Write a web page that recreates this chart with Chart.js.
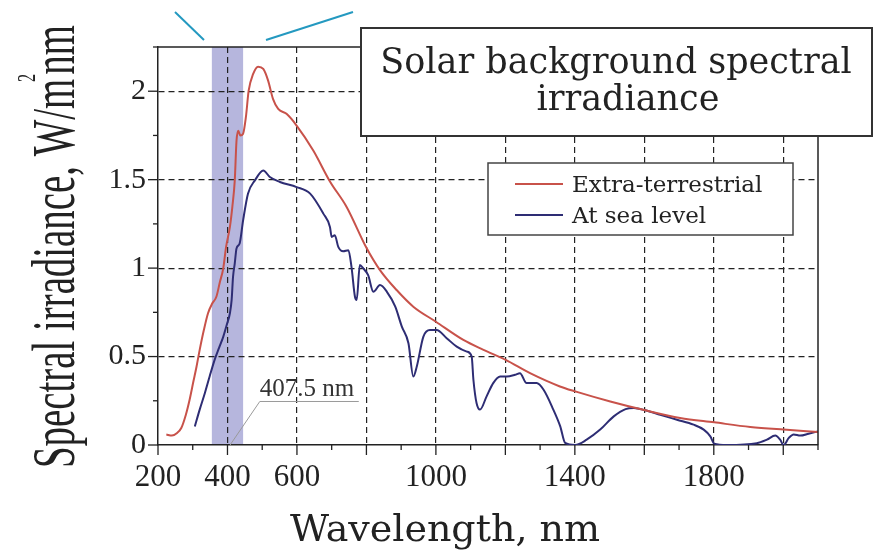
<!DOCTYPE html>
<html>
<head>
<meta charset="utf-8">
<script src="https://cdn.jsdelivr.net/npm/chart.js@4.4.0/dist/chart.umd.min.js"></script>
<style>
  html, body { margin: 0; padding: 0; background: #fff; }
  canvas { display: block; }
</style>
</head>
<body>
<canvas id="spectrum" width="879" height="555"></canvas>
<script>
// Extra-terrestrial spectrum (wavelength in nm, irradiance in W/m2/nm)
const extraWl = [224, 240, 255, 267, 280, 291, 302, 311, 320, 332, 344, 356, 368, 378, 388, 396, 407, 414, 421, 426, 431, 437, 445, 453, 461, 474, 488, 503, 517, 531, 546, 570, 599, 647, 695, 743, 800, 839, 887, 935, 1000, 1079, 1137, 1201, 1271, 1357, 1401, 1502, 1603, 1703, 1801, 1905, 2001, 2100];
const extraIrr = [0.059, 0.053, 0.068, 0.096, 0.17, 0.256, 0.36, 0.444, 0.538, 0.65, 0.745, 0.80, 0.838, 0.92, 1.0, 1.12, 1.233, 1.346, 1.496, 1.72, 1.776, 1.75, 1.76, 1.853, 2.003, 2.098, 2.139, 2.126, 2.06, 1.957, 1.90, 1.872, 1.806, 1.665, 1.49, 1.346, 1.115, 0.989, 0.876, 0.782, 0.697, 0.594, 0.538, 0.481, 0.406, 0.331, 0.303, 0.246, 0.196, 0.153, 0.128, 0.102, 0.087, 0.074];

// Spectrum at sea level
const seaWl = [306, 320, 335, 349, 363, 376, 388, 398, 407, 412, 416, 421, 426, 435, 445, 459, 479, 503, 522, 551, 599, 638, 676, 695, 700, 709, 719, 733, 748, 757, 767, 772, 781, 791, 805, 820, 839, 859, 883, 902, 921, 935, 945, 964, 983, 1002, 1031, 1060, 1089, 1103, 1108, 1117, 1127, 1146, 1165, 1185, 1204, 1228, 1242, 1261, 1290, 1310, 1338, 1358, 1372, 1401, 1434, 1473, 1512, 1546, 1570, 1603, 1646, 1694, 1742, 1771, 1790, 1801, 1838, 1924, 1953, 1977, 1991, 2001, 2016, 2030, 2049, 2073, 2100];
const seaIrr = [0.105, 0.2, 0.294, 0.39, 0.481, 0.55, 0.613, 0.68, 0.745, 0.82, 0.95, 1.027, 1.111, 1.139, 1.27, 1.421, 1.496, 1.552, 1.515, 1.487, 1.458, 1.421, 1.308, 1.233, 1.176, 1.186, 1.12, 1.095, 1.101, 1.007, 0.838, 0.82, 1.017, 0.998, 0.96, 0.866, 0.904, 0.866, 0.782, 0.669, 0.575, 0.387, 0.444, 0.613, 0.65, 0.65, 0.604, 0.556, 0.528, 0.5, 0.369, 0.237, 0.2, 0.275, 0.35, 0.387, 0.387, 0.397, 0.406, 0.35, 0.35, 0.312, 0.2, 0.105, 0.012, 0, 0.03, 0.087, 0.162, 0.203, 0.209, 0.196, 0.171, 0.143, 0.115, 0.087, 0.049, 0.008, 0, 0.01, 0.03, 0.053, 0.03, 0, 0.04, 0.059, 0.053, 0.064, 0.077];

const seriesNames = ['Extra-terrestrial', 'At sea level'];
const xTickLabels = [200, 400, 600, 1000, 1400, 1800];
const yTickLabels = [0, 0.5, 1, 1.5, 2];
const bandRange = [355, 445];          // highlighted band, nm
const calloutWave = 407.5;             // wavelength pointed at by the callout
const calloutAnchor = [493, 0.246];    // where the callout text sits
const titleLines = ['Solar background spectral', 'irradiance'];
const xTitle = 'Wavelength, nm';

const INK = '#222';
const SERIF = "'Liberation Serif', serif";
const WIDE_SERIF = "'DejaVu Serif', serif";

function toPoints(xs, ys) {
  return xs.map((x, i) => ({ x: x, y: ys[i] }));
}

function line(ctx, x1, y1, x2, y2) {
  ctx.beginPath();
  ctx.moveTo(x1, y1);
  ctx.lineTo(x2, y2);
  ctx.stroke();
}

// Band behind the grid and curves
const bandPlugin = {
  id: 'band',
  beforeDraw(chart) {
    const { ctx, chartArea: a, scales: { x } } = chart;
    const x1 = x.getPixelForValue(bandRange[0]);
    const x2 = x.getPixelForValue(bandRange[1]);
    ctx.save();
    ctx.fillStyle = '#b6b6dd';
    ctx.fillRect(x1, a.top, x2 - x1, a.bottom - a.top);
    ctx.restore();
  }
};

// Tick marks, frame, callout, legend, title box and axis titles
const decorPlugin = {
  id: 'decor',
  afterDraw(chart) {
    const { ctx, chartArea: a, scales: { x, y } } = chart;
    ctx.save();

    // tick marks
    ctx.strokeStyle = INK;
    ctx.lineWidth = 1.3;
    x.ticks.forEach(t => {
      const px = x.getPixelForValue(t.value);
      line(ctx, px, a.bottom, px, a.bottom + (t.value % 200 === 0 ? 10 : 5));
    });
    y.ticks.forEach(t => {
      const py = y.getPixelForValue(t.value);
      line(ctx, a.left - (t.value % 0.5 === 0 ? 10 : 5), py, a.left, py);
    });

    // top and right frame lines
    ctx.lineWidth = 1.5;
    line(ctx, a.left, a.top, a.right, a.top);
    line(ctx, a.right, a.top, a.right, a.bottom);

    // connector lines above the plot
    ctx.strokeStyle = '#2499c0';
    ctx.lineWidth = 2;
    line(ctx, 175, 12, 204, 40);
    line(ctx, 266, 40, 353, 12);

    // callout for the band wavelength
    const cx = x.getPixelForValue(calloutAnchor[0]);
    const cy = y.getPixelForValue(calloutAnchor[1]);
    ctx.strokeStyle = '#9a9a9a';
    ctx.lineWidth = 1;
    line(ctx, x.getPixelForValue(calloutWave), a.bottom, cx, cy);
    line(ctx, cx, cy, cx + 99, cy);
    ctx.fillStyle = '#333';
    ctx.font = '25px ' + SERIF;
    ctx.textAlign = 'left';
    ctx.textBaseline = 'alphabetic';
    ctx.fillText(calloutWave + ' nm', cx, cy - 5);

    // legend box
    ctx.fillStyle = '#fff';
    ctx.fillRect(488, 163, 305, 72);
    ctx.strokeStyle = '#444';
    ctx.lineWidth = 1.5;
    ctx.strokeRect(488, 163, 305, 72);
    ctx.font = '23px ' + WIDE_SERIF;
    chart.data.datasets.forEach((ds, i) => {
      const ly = 184 + i * 31;
      ctx.strokeStyle = ds.borderColor;
      ctx.lineWidth = 2;
      line(ctx, 515, ly, 563, ly);
      ctx.fillStyle = INK;
      ctx.fillText(ds.label, 572, ly + 8);
    });

    // title box
    ctx.fillStyle = '#fff';
    ctx.fillRect(361, 28, 511, 108);
    ctx.strokeStyle = '#333';
    ctx.lineWidth = 2;
    ctx.strokeRect(361, 28, 511, 108);
    ctx.fillStyle = INK;
    ctx.font = '35px ' + WIDE_SERIF;
    ctx.textAlign = 'center';
    ctx.fillText(titleLines[0], 616, 73);
    ctx.fillText(titleLines[1], 628, 110);

    // x axis title
    ctx.font = '38px ' + WIDE_SERIF;
    ctx.fillText(xTitle, 445, 541);

    // y axis title, tall and narrow, with a superscript 2
    ctx.translate(74, 468);
    ctx.rotate(-Math.PI / 2);
    const big = '62px ' + SERIF;
    const small = '26px ' + SERIF;
    const head = 'Spectral irradiance, W/m';
    ctx.font = big;
    const wHead = ctx.measureText(head).width;
    const wTail = ctx.measureText('nm').width;
    ctx.font = small;
    const wSup = ctx.measureText('2').width;
    const gap = wSup * 0.5;
    ctx.scale(443 / (wHead + gap + wTail), 1);
    ctx.textAlign = 'left';
    ctx.font = big;
    ctx.fillText(head, 0, 0);
    ctx.fillText('nm', wHead + gap, 0);
    ctx.font = small;
    ctx.fillText('2', wHead - wSup * 0.4, -39);

    ctx.restore();
  }
};

new Chart(document.getElementById('spectrum'), {
  type: 'line',
  data: {
    datasets: [
      {
        label: seriesNames[0],
        data: toPoints(extraWl, extraIrr),
        borderColor: '#c8524a'
      },
      {
        label: seriesNames[1],
        data: toPoints(seaWl, seaIrr),
        borderColor: '#2e2d74'
      }
    ]
  },
  options: {
    responsive: false,
    animation: false,
    devicePixelRatio: 1,
    layout: { padding: { left: 0, top: 47, right: 61, bottom: 0 } },
    plugins: {
      legend: { display: false },
      tooltip: { enabled: false }
    },
    elements: {
      point: { radius: 0 },
      line: { borderWidth: 2, cubicInterpolationMode: 'monotone', fill: false }
    },
    scales: {
      x: {
        type: 'linear',
        min: 200,
        max: 2100,
        afterFit(scale) { scale.height = 110; },
        ticks: {
          stepSize: 100,
          autoSkip: false,
          maxRotation: 0,
          padding: 14,
          color: INK,
          font: { family: SERIF, size: 31 },
          callback: v => xTickLabels.includes(v) ? String(v) : ''
        },
        grid: {
          drawTicks: false,
          lineWidth: 1.2,
          color: c => (c.tick && c.tick.value % 200 === 0 && c.tick.value > 200) ? INK : 'rgba(0,0,0,0)'
        },
        border: { color: INK, width: 1.5, dash: [6, 4] }
      },
      y: {
        min: 0,
        max: 2.25,
        afterFit(scale) { scale.width = 158; },
        ticks: {
          stepSize: 0.25,
          autoSkip: false,
          padding: 12,
          color: INK,
          font: { family: SERIF, size: 30 },
          callback: v => yTickLabels.includes(v) ? String(v) : ''
        },
        grid: {
          drawTicks: false,
          lineWidth: 1.2,
          color: c => (c.tick && yTickLabels.includes(c.tick.value) && c.tick.value > 0) ? INK : 'rgba(0,0,0,0)'
        },
        border: { color: INK, width: 1.5, dash: [6, 4] }
      }
    }
  },
  plugins: [bandPlugin, decorPlugin]
});
</script>
</body>
</html>
